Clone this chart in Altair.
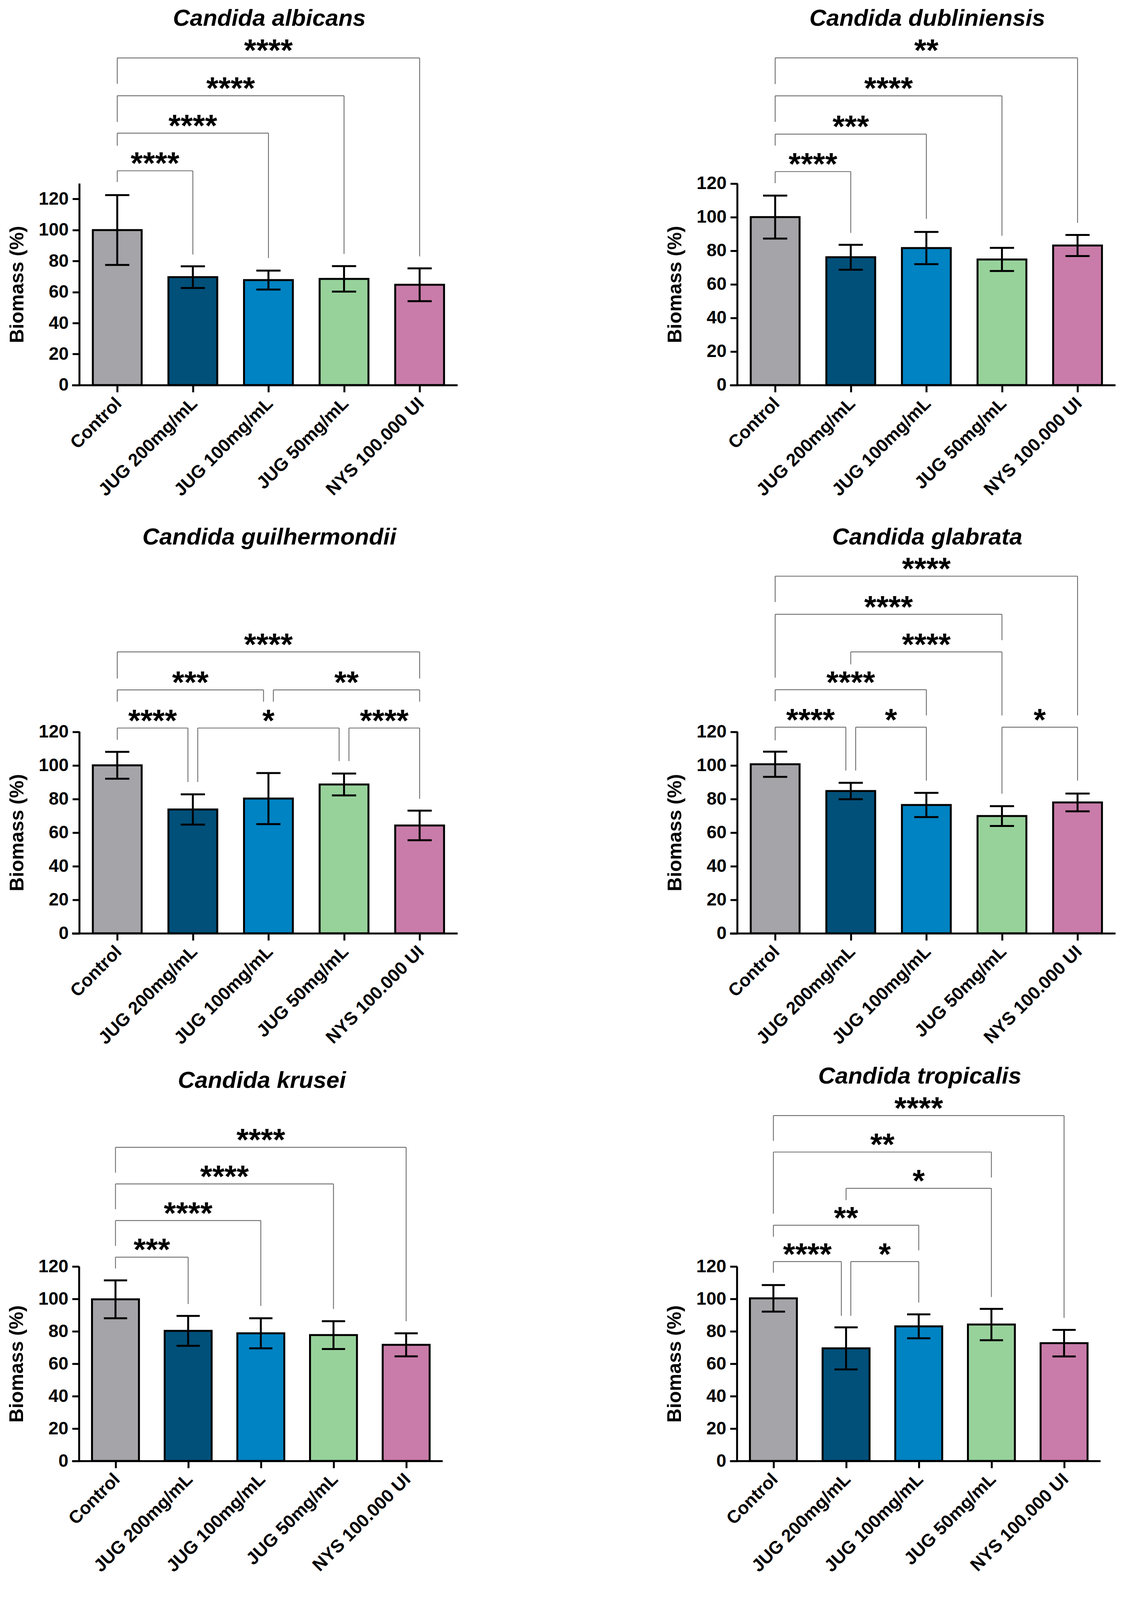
import json
import pandas as pd
import altair as alt

groups = ['Control', 'JUG 200mg/mL', 'JUG 100mg/mL', 'JUG 50mg/mL', 'NYS 100.000 UI']
colors = ['#a5a4a9', '#00507a', '#0083c3', '#98d29b', '#c97ca9']

species = ['Candida albicans', 'Candida dubliniensis', 'Candida guilhermondii',
           'Candida glabrata', 'Candida krusei', 'Candida tropicalis']

# mean biomass (%) and SD, in the order of groups
albicans_mean = [100.0, 69.6, 67.7, 68.5, 64.7]
albicans_sd = [22.5, 7.0, 6.1, 8.2, 10.6]
dubliniensis_mean = [100.0, 76.1, 81.6, 74.8, 83.1]
dubliniensis_sd = [12.8, 7.4, 9.6, 6.9, 6.3]
guilhermondii_mean = [100.0, 73.7, 80.2, 88.6, 64.2]
guilhermondii_sd = [8.0, 9.0, 15.2, 6.5, 8.8]
glabrata_mean = [100.6, 84.7, 76.4, 69.8, 77.9]
glabrata_sd = [7.5, 4.9, 7.2, 5.9, 5.3]
krusei_mean = [99.8, 80.3, 78.8, 77.7, 71.7]
krusei_sd = [11.7, 9.2, 9.3, 8.6, 7.1]
tropicalis_mean = [100.4, 69.5, 83.1, 84.2, 72.7]
tropicalis_sd = [8.2, 13.0, 7.4, 9.7, 8.2]

# significance brackets: (from group, to group, line level, left arm end, right arm end, stars)
albicans_brackets = [(0, 1, 138.2, 131.0, 84.2, '****'), (0, 2, 162.5, 154.4, 81.9, '****'),
                     (0, 3, 186.6, 169.7, 84.6, '****'), (0, 4, 211.0, 194.3, 83.0, '****')]
dubliniensis_brackets = [(0, 1, 127.1, 120.2, 90.6, '****'), (0, 2, 149.4, 142.6, 98.9, '***'),
                         (0, 3, 172.2, 156.7, 88.9, '****'), (0, 4, 194.8, 179.2, 96.6, '**')]
guilhermondii_brackets = [(0, 1, 122.2, 115.2, 90.1, '****'), (1, 3, 122.2, 90.1, 102.5, '*'),
                          (3, 4, 122.2, 102.5, 80.1, '****'), (0, 2, 144.9, 137.9, 137.9, '***'),
                          (2, 4, 144.9, 137.9, 137.9, '**'), (0, 4, 167.5, 151.7, 151.7, '****')]
glabrata_brackets = [(0, 1, 122.7, 114.9, 96.9, '****'), (1, 2, 122.7, 96.9, 90.9, '*'),
                     (3, 4, 122.7, 83.1, 90.9, '*'), (0, 2, 145.0, 138.2, 129.7, '****'),
                     (1, 3, 167.5, 160.1, 129.7, '****'), (0, 3, 189.9, 152.2, 174.5, '****'),
                     (0, 4, 212.6, 197.2, 129.7, '****')]
krusei_brackets = [(0, 1, 125.8, 118.8, 96.9, '***'), (0, 2, 148.4, 132.8, 95.7, '****'),
                   (0, 3, 171.0, 155.4, 93.8, '****'), (0, 4, 193.6, 178.0, 86.3, '****')]
tropicalis_brackets = [(0, 1, 123.1, 116.2, 89.6, '****'), (1, 2, 123.1, 89.6, 97.8, '*'),
                       (0, 2, 145.5, 138.4, 130.0, '**'), (1, 3, 168.3, 161.0, 101.2, '*'),
                       (0, 3, 190.7, 152.6, 175.0, '**'), (0, 4, 213.2, 197.6, 88.3, '****')]

FONT = 'Liberation Sans'
X_LEFT, X_RIGHT, Y_AXIS_X = -0.6, 4.5, -0.5
BAR_HALF, CAP_HALF, NUDGE = 0.323, 0.16, 0.065
V = 0.8  # vertical squeeze so the three rows fit in the photographed area
# per row: category spacing px, y axis length px, plot height px, title offset
rows = [(193.5, 645 * V, 1126 * V, 6), (193.5, 645 * V, 1227 * V, 1), (186, 622 * V, 1161 * V, 13)]


def panel(name, mean, sd, brackets, row):
    spacing, axis_len, height, toff = rows[row]
    top = 130 if name == 'Candida albicans' else 120
    ymax = height * top / axis_len
    xs = alt.Scale(domain=[X_LEFT, X_RIGHT], nice=False, zero=False)
    ys = alt.Scale(domain=[0, ymax], nice=False)
    labels = json.dumps(groups)
    xax = alt.Axis(values=[0, 1, 2, 3, 4], labelExpr=f'{labels}[datum.value]', title=None,
                   labelAngle=-45, labelPadding=6, labelOffset=-12, labelLimit=0,
                   labelOverlap=False, tickSize=18, tickWidth=5, domainWidth=5)
    yax = alt.Axis(values=list(range(0, 121, 20)), domain=False, offset=-0.1 * spacing,
                   tickSize=18, tickWidth=5, labelPadding=10, labelOverlap=False,
                   title='Biomass (%)', titleAngle=270, titleAlign='center',
                   titleBaseline='middle', titleX=-159, titleY=height - axis_len / 2)

    def X(f):
        return alt.X(f, type='quantitative', scale=xs, axis=xax)

    def Y(f):
        return alt.Y(f, type='quantitative', scale=ys, axis=yax)

    df = pd.DataFrame({'group': groups, 'i': range(5), 'mean': mean, 'sd': sd})
    df['x1'] = df['i'] - BAR_HALF
    df['x2'] = df['i'] + BAR_HALF
    df['lo'] = df['mean'] - df['sd']
    df['hi'] = df['mean'] + df['sd']
    caps = pd.concat([df[['i', 'lo']].rename(columns={'lo': 'v'}),
                      df[['i', 'hi']].rename(columns={'hi': 'v'})])
    caps['c1'] = caps['i'] - CAP_HALF
    caps['c2'] = caps['i'] + CAP_HALF

    bars = alt.Chart(df).mark_bar(stroke='black', strokeWidth=5).encode(
        x=X('x1'), x2='x2', y=Y('mean'), y2=alt.datum(0),
        color=alt.Color('group:N', scale=alt.Scale(domain=groups, range=colors), legend=None),
    )
    err = alt.Chart(df).mark_rule(strokeWidth=5, color='black').encode(
        x=X('i'), y=Y('lo'), y2='hi')
    cap = alt.Chart(caps).mark_rule(strokeWidth=5, color='black').encode(
        x=X('c1'), x2='c2', y=Y('v'))
    yline = alt.Chart(pd.DataFrame({'x': [Y_AXIS_X], 'y': [0], 'y2': [top]})).mark_rule(
        strokeWidth=5, color='black').encode(x=X('x'), y=Y('y'), y2='y2')

    hl, arms, stars = [], [], []
    for a, b, lvl, lend, rend, lab in brackets:
        xa, xb = float(a), float(b)
        for a2, b2, lvl2, *_ in brackets:
            if lvl2 == lvl and b2 == a:
                xa = a + NUDGE
            if lvl2 == lvl and a2 == b:
                xb = b - NUDGE
        hl.append({'x1': xa, 'x2': xb, 'y': lvl})
        arms.append({'x': xa, 'y1': lvl, 'y2': lend})
        arms.append({'x': xb, 'y1': lvl, 'y2': rend})
        stars.append({'x': (xa + xb) / 2, 'y': lvl, 't': lab})
    hline = alt.Chart(pd.DataFrame(hl)).mark_rule(strokeWidth=2.2, color='#6b6b6b').encode(
        x=X('x1'), x2='x2', y=Y('y'))
    aline = alt.Chart(pd.DataFrame(arms)).mark_rule(strokeWidth=2.2, color='#6b6b6b').encode(
        x=X('x'), y=Y('y1'), y2='y2')
    text = alt.Chart(pd.DataFrame(stars)).mark_text(
        font=FONT, fontSize=80, fontWeight='bold', baseline='alphabetic', dy=8, color='black'
    ).encode(x=X('x'), y=Y('y'), text='t:N')

    return alt.layer(bars, err, cap, yline, hline, aline, text).properties(
        width=(X_RIGHT - X_LEFT) * spacing, height=height,
        title=alt.TitleParams(name, font=FONT, fontSize=60, fontWeight='bold', fontStyle='italic',
                              anchor='middle', frame='group', offset=toff, dx=12, color='black'))


data = [
    (albicans_mean, albicans_sd, albicans_brackets),
    (dubliniensis_mean, dubliniensis_sd, dubliniensis_brackets),
    (guilhermondii_mean, guilhermondii_sd, guilhermondii_brackets),
    (glabrata_mean, glabrata_sd, glabrata_brackets),
    (krusei_mean, krusei_sd, krusei_brackets),
    (tropicalis_mean, tropicalis_sd, tropicalis_brackets),
]
panels = [panel(n, m, s, b, k // 2) for k, (n, (m, s, b)) in enumerate(zip(species, data))]

chart = alt.concat(
    *panels, columns=2, bounds='flush',
    spacing=alt.RowColnumber(row=527 * V, column=697),
).properties(
    padding={'left': 10, 'top': 10, 'right': 10, 'bottom': 0}, background='white'
).configure_view(stroke=None).configure_axis(
    labelFont=FONT, labelFontSize=46, labelFontWeight='bold', labelColor='black',
    titleFont=FONT, titleFontSize=50, titleFontWeight='bold', titleColor='black',
    tickColor='black', domainColor='black', grid=False,
)

chart.save('out.html', embed_options={'renderer': 'svg', 'actions': False})
